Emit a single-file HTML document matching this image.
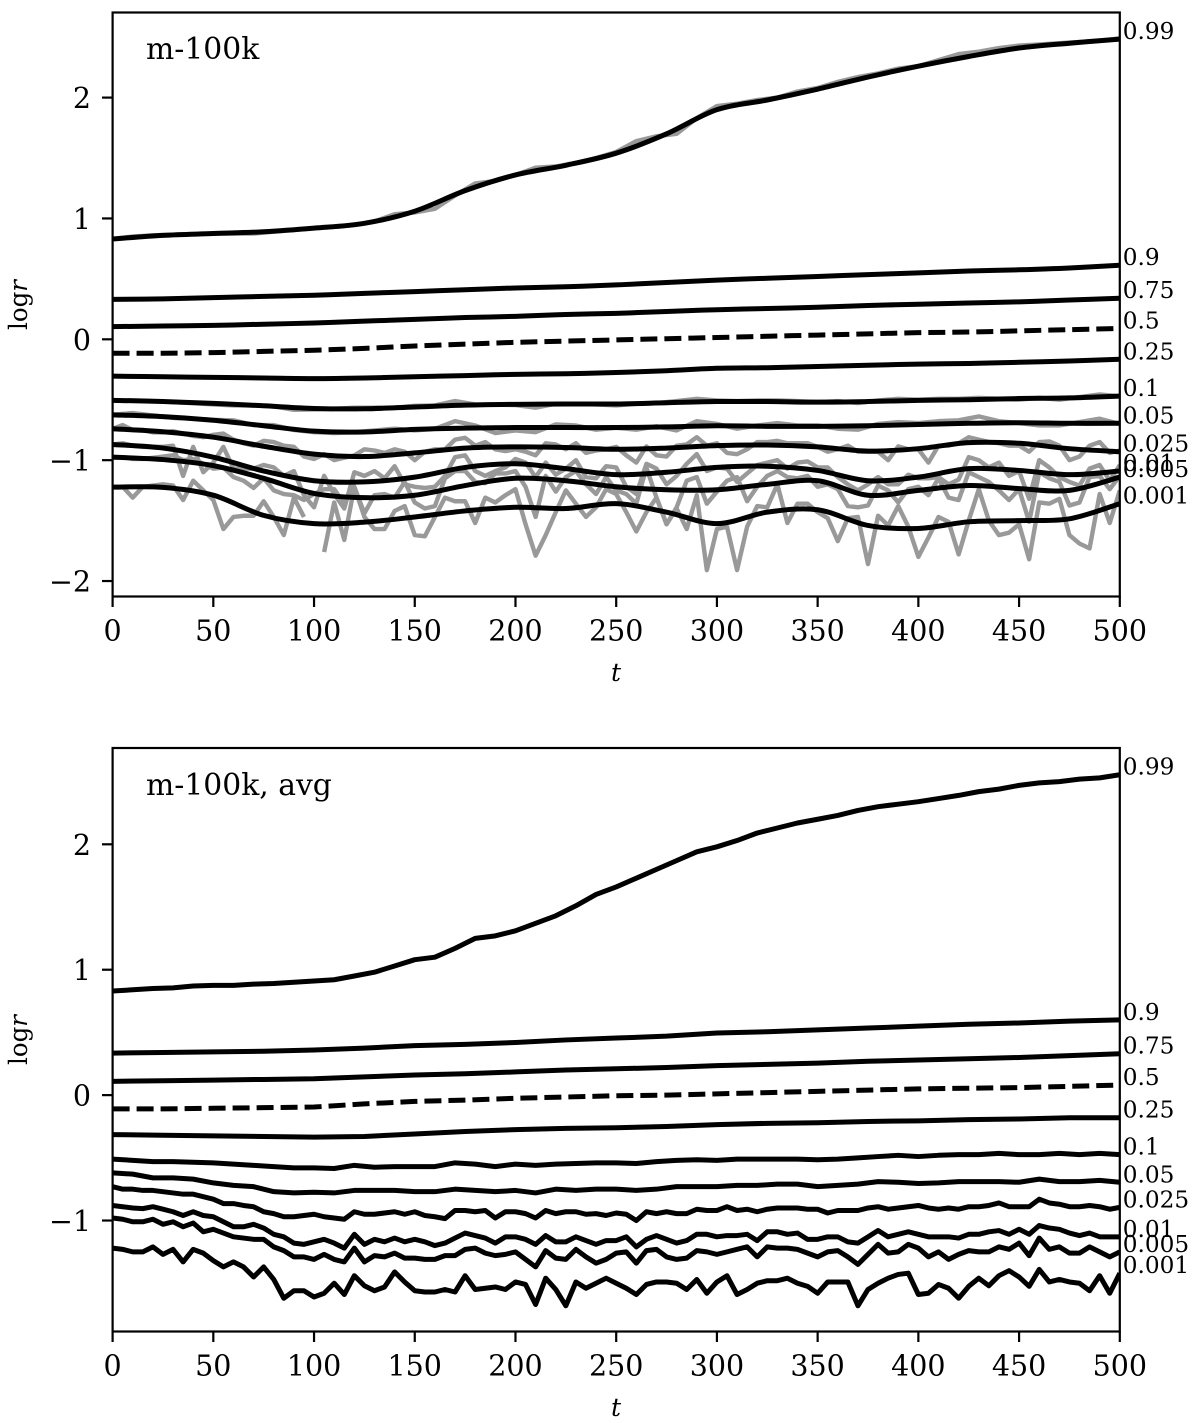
<!DOCTYPE html>
<html lang="en">
<head>
<meta charset="utf-8">
<title>m-100k log r quantile evolution</title>
<style>
html,body{margin:0;padding:0;background:#fff;}
svg{display:block;}
text{font-family:"DejaVu Serif","Liberation Serif",serif;fill:#000;}
</style>
</head>
<body>
<svg id="figure" xmlns="http://www.w3.org/2000/svg" width="1200" height="1423" viewBox="0 0 1200 1423">
  <defs>
    <clipPath id="clip-top"><rect x="112.6" y="12.5" width="1007.2" height="584"/></clipPath>
    <clipPath id="clip-bottom"><rect x="112.6" y="748" width="1007.2" height="583.5"/></clipPath>
  </defs>
  <g id="panel-top">
    <g id="top-grey" clip-path="url(#clip-top)"></g>
    <g id="top-black" clip-path="url(#clip-top)"></g>
    <rect x="112.6" y="12.5" width="1007.2" height="584" fill="none" stroke="#000" stroke-width="2.2"/>
    <g id="top-axes"></g>
    <g id="top-labels"></g>
    <text x="146" y="59" font-size="29.8">m-100k</text>
    <text x="616" y="681" font-size="25" font-style="italic" text-anchor="middle">t</text>
    <text transform="translate(27,305) rotate(-90)" font-size="25" text-anchor="middle" textLength="50" lengthAdjust="spacingAndGlyphs">log<tspan font-style="italic">r</tspan></text>
  </g>
  <g id="panel-bottom">
    <g id="bottom-black" clip-path="url(#clip-bottom)"></g>
    <rect x="112.6" y="748" width="1007.2" height="583.5" fill="none" stroke="#000" stroke-width="2.2"/>
    <g id="bottom-axes"></g>
    <g id="bottom-labels"></g>
    <text x="146" y="795" font-size="29.8">m-100k, avg</text>
    <text x="616" y="1416" font-size="25" font-style="italic" text-anchor="middle">t</text>
    <text transform="translate(27,1040) rotate(-90)" font-size="25" text-anchor="middle" textLength="50" lengthAdjust="spacingAndGlyphs">log<tspan font-style="italic">r</tspan></text>
  </g>
</svg>
<script>
const xTickValues = [0,50,100,150,200,250,300,350,400,450,500];
const yTicksTop = [-2,-1,0,1,2];
const yTicksBottom = [-1,0,1,2];
const quantileLabels = ['0.99','0.9','0.75','0.5','0.25','0.1','0.05','0.025','0.01','0.005','0.001'];

// Top panel: smoothed profiles, sampled every 25 in t
const topSmooth099 = [.83,.86,.875,.89,.92,.96,1.06,1.23,1.36,1.44,1.54,1.70,1.90,1.98,2.07,2.17,2.26,2.34,2.41,2.45,2.484];
const topSmooth090 = [.33,.335,.345,.355,.365,.38,.395,.41,.425,.435,.45,.47,.49,.505,.52,.535,.55,.565,.575,.59,.613];
const topSmooth075 = [.105,.11,.115,.125,.135,.15,.165,.18,.19,.205,.215,.23,.245,.255,.265,.28,.29,.30,.31,.325,.34];
const topSmooth050 = [-.115,-.115,-.11,-.10,-.09,-.075,-.055,-.04,-.025,-.015,-.005,.005,.015,.025,.035,.045,.055,.06,.07,.08,.09];
const topSmooth025 = [-.305,-.31,-.315,-.32,-.325,-.32,-.31,-.30,-.29,-.285,-.275,-.26,-.24,-.235,-.225,-.215,-.205,-.20,-.19,-.18,-.165];
const topSmooth010 = [-.505,-.515,-.53,-.55,-.572,-.575,-.56,-.545,-.538,-.535,-.535,-.525,-.515,-.515,-.52,-.515,-.505,-.50,-.49,-.485,-.47];
const topSmooth005 = [-.625,-.64,-.67,-.715,-.76,-.767,-.745,-.735,-.73,-.73,-.73,-.725,-.715,-.72,-.72,-.715,-.705,-.695,-.69,-.695,-.695];
const topSmooth0025 = [-.74,-.765,-.81,-.885,-.95,-.97,-.94,-.90,-.89,-.895,-.91,-.90,-.88,-.875,-.89,-.925,-.905,-.855,-.86,-.905,-.93];
const topSmooth001 = [-.87,-.90,-.975,-1.09,-1.17,-1.18,-1.14,-1.06,-1.03,-1.07,-1.12,-1.10,-1.06,-1.05,-1.085,-1.17,-1.14,-1.07,-1.085,-1.12,-1.09];
const topSmooth0005 = [-.975,-.995,-1.045,-1.15,-1.275,-1.31,-1.29,-1.21,-1.15,-1.17,-1.22,-1.245,-1.245,-1.20,-1.17,-1.29,-1.25,-1.21,-1.235,-1.25,-1.14];
const topSmooth0001 = [-1.223,-1.225,-1.29,-1.457,-1.525,-1.513,-1.47,-1.42,-1.39,-1.40,-1.36,-1.43,-1.525,-1.43,-1.41,-1.54,-1.565,-1.51,-1.50,-1.485,-1.36];

// Top panel: raw grey profiles
const topRaw099 = [.83,.85,.86,.865,.87,.875,.875,.875,.89,.905,.92,.93,.945,.975,1.035,1.05,1.08,1.19,1.29,1.31,1.36,1.42,1.43,1.46,1.50,1.55,1.64,1.68,1.70,1.83,1.93,1.95,1.98,2.0,2.05,2.08,2.13,2.17,2.20,2.24,2.26,2.31,2.36,2.38,2.41,2.43,2.44,2.45,2.46,2.47,2.49];
const topRaw010 = [-.506,-.506,-.511,-.519,-.528,-.539,-.547,-.547,-.555,-.583,-.58,-.575,-.566,-.566,-.566,-.55,-.547,-.511,-.539,-.541,-.544,-.566,-.533,-.533,-.539,-.547,-.533,-.528,-.511,-.492,-.506,-.511,-.506,-.506,-.511,-.519,-.511,-.528,-.506,-.492,-.50,-.492,-.492,-.484,-.492,-.50,-.484,-.50,-.478,-.456,-.472];
const topRaw005 = [-.624,-.61,-.63,-.65,-.657,-.666,-.67,-.71,-.71,-.75,-.768,-.776,-.768,-.754,-.74,-.754,-.74,-.677,-.713,-.776,-.754,-.768,-.704,-.713,-.748,-.732,-.748,-.72,-.754,-.677,-.70,-.74,-.713,-.693,-.713,-.713,-.74,-.748,-.70,-.685,-.693,-.677,-.67,-.638,-.677,-.693,-.713,-.713,-.685,-.657,-.70];
const topRaw0025 = [
-.74,-.71,-.75,-.75,-.77,-.77,-.76,-.78,-.80,-.81,
-.79,-.78,-.83,-.86,-.88,-.84,-.85,-.88,-.89,-.97,
-.99,-.95,-1.0,-.98,-.96,-.91,-.92,-.94,-.91,-.93,
-1.0,-.93,-.91,-.91,-.83,-.815,-.88,-.85,-.91,-.925,
-.91,-.93,-.96,-.86,-.87,-.91,-.86,-.94,-.92,-.91,
-.89,-.96,-1.02,-.886,-.96,-.97,-.88,-.87,-.81,-.88,
-.86,-.94,-.95,-.91,-.85,-.85,-.84,-.86,-.86,-.86,
-.89,-.93,-.91,-.88,-.93,-.93,-.93,-1.0,-.886,-.91,
-.91,-1.02,-.88,-.88,-.86,-.81,-.83,-.85,-.86,-.88,
-.88,-.93,-.85,-.845,-.88,-1.0,-.97,-.88,-.85,-.94,-.92];
const topRaw001 = [
-.87,-.86,-.88,-.89,-.89,-.89,-.88,-1.13,-.89,-1.10,
-1.02,-.89,-1.07,-1.07,-1.07,-1.04,-1.06,-1.13,-1.09,-1.29,
-1.39,-1.13,-1.28,-1.40,-1.10,-1.13,-1.09,-1.15,-1.05,-1.20,
-1.22,-1.23,-1.22,-1.13,-.975,-.96,-1.09,-1.13,-1.09,-1.06,
-.99,-1.02,-1.14,-1.02,-1.12,-1.07,-1.0,-1.14,-1.15,-1.05,
-1.06,-1.22,-1.28,-1.03,-1.07,-1.20,-1.13,-1.03,-.95,-1.09,
-1.06,-1.07,-1.18,-1.11,-1.04,-1.02,-1.0,-1.07,-1.02,-1.01,
-1.06,-1.06,-1.14,-1.20,-1.25,-1.20,-1.14,-1.20,-1.20,-1.12,
-1.15,-1.15,-1.14,-1.20,-1.16,-.975,-1.0,-1.06,-1.02,-1.13,
-1.09,-1.32,-1.0,-1.06,-1.14,-1.18,-1.21,-1.07,-1.04,-1.17,-1.04];
const topRaw0005 = [
-.975,-.975,-.99,-.99,-.98,-.97,-.96,-1.0,-.99,-1.03,
-1.07,-1.06,-1.14,-1.17,-1.23,-1.15,-1.25,-1.28,-1.29,-1.33,
-1.28,-1.24,-1.24,-1.36,-1.22,-1.44,-1.29,-1.28,-1.31,-1.18,
-1.35,-1.40,-1.38,-1.15,-1.09,-1.09,-1.18,-1.19,-1.11,-1.11,
-1.09,-1.22,-1.47,-1.13,-1.26,-1.14,-1.09,-1.20,-1.28,-1.14,
-1.25,-1.28,-1.36,-1.06,-1.31,-1.53,-1.39,-1.17,-1.14,-1.36,
-1.26,-1.17,-1.14,-1.34,-1.22,-1.13,-1.09,-1.14,-1.15,-1.13,
-1.22,-1.20,-1.24,-1.38,-1.39,-1.375,-1.21,-1.25,-1.35,-1.24,
-1.22,-1.29,-1.15,-1.31,-1.33,-1.10,-1.14,-1.18,-1.25,-1.33,
-1.24,-1.51,-1.10,-1.15,-1.18,-1.375,-1.35,-1.14,-1.13,-1.24,-1.13];
const topRaw0001 = [
-1.22,-1.22,-1.31,-1.22,-1.21,-1.20,-1.21,-1.33,-1.17,-1.25,
-1.33,-1.57,-1.47,-1.46,-1.46,-1.34,-1.47,-1.62,-1.31,-1.47,
null,-1.76,-1.35,-1.66,-1.22,-1.47,-1.57,-1.57,-1.42,-1.38,
-1.62,-1.63,-1.47,-1.31,-1.34,-1.34,-1.52,-1.31,-1.35,-1.29,
-1.24,-1.53,-1.79,-1.62,-1.43,-1.25,-1.36,-1.47,-1.39,-1.24,
-1.28,-1.43,-1.59,-1.43,-1.31,-1.53,-1.40,-1.57,-1.29,-1.91,
-1.57,-1.55,-1.91,-1.55,-1.38,-1.39,-1.20,-1.52,-1.36,-1.36,
-1.43,-1.48,-1.67,-1.48,-1.47,-1.86,-1.46,-1.54,-1.38,-1.55,
-1.80,-1.64,-1.47,-1.51,-1.78,-1.50,-1.24,-1.50,-1.62,-1.60,
-1.53,-1.82,-1.35,-1.36,-1.32,-1.62,-1.69,-1.73,-1.28,-1.52,-1.25];

// Bottom panel: averaged profiles
const botAvg099 = [.83,.84,.85,.855,.87,.875,.875,.885,.89,.90,.91,.92,.95,.98,1.03,1.08,1.10,1.17,1.25,1.27,1.31,1.37,1.43,1.51,1.60,1.66,1.73,1.80,1.87,1.94,1.98,2.03,2.09,2.13,2.17,2.20,2.23,2.27,2.30,2.32,2.34,2.365,2.39,2.42,2.44,2.47,2.49,2.50,2.52,2.53,2.555];
const botAvg090 = [.335,.34,.345,.35,.36,.375,.395,.405,.42,.44,.455,.47,.495,.505,.52,.535,.55,.565,.575,.59,.60];
const botAvg075 = [.11,.115,.12,.125,.13,.145,.16,.17,.185,.20,.21,.22,.235,.245,.255,.27,.28,.29,.30,.315,.33];
const botAvg050 = [-.11,-.11,-.105,-.10,-.095,-.07,-.05,-.04,-.025,-.015,-.005,.0,.01,.02,.03,.04,.05,.055,.06,.07,.08];
const botAvg025 = [-.315,-.32,-.325,-.33,-.335,-.33,-.31,-.29,-.275,-.265,-.26,-.25,-.235,-.225,-.22,-.21,-.205,-.195,-.19,-.18,-.18];
const botAvg010 = [-.51,-.52,-.53,-.53,-.535,-.54,-.55,-.56,-.57,-.58,-.58,-.585,-.56,-.575,-.57,-.57,-.57,-.54,-.55,-.57,-.55,-.56,-.55,-.545,-.54,-.54,-.545,-.53,-.52,-.515,-.52,-.51,-.51,-.51,-.51,-.515,-.51,-.50,-.49,-.48,-.49,-.48,-.475,-.475,-.465,-.475,-.475,-.465,-.475,-.465,-.475];
const botAvg005 = [-.62,-.63,-.66,-.66,-.67,-.70,-.72,-.73,-.77,-.78,-.775,-.78,-.76,-.76,-.76,-.77,-.77,-.75,-.76,-.77,-.76,-.78,-.75,-.76,-.75,-.75,-.76,-.75,-.73,-.73,-.73,-.72,-.72,-.71,-.71,-.73,-.72,-.71,-.69,-.695,-.705,-.70,-.69,-.69,-.69,-.695,-.67,-.69,-.69,-.68,-.695];
const botAvg0025 = [
-.73,-.75,-.75,-.76,-.76,-.77,-.78,-.79,-.79,-.81,
-.83,-.865,-.865,-.88,-.89,-.93,-.945,-.97,-.97,-.96,
-.95,-.97,-.98,-.99,-.93,-.95,-.95,-.94,-.93,-.95,
-.93,-.96,-.97,-.985,-.92,-.92,-.93,-.92,-.98,-.93,
-.93,-.945,-.98,-.92,-.945,-.93,-.93,-.95,-.945,-.96,
-.94,-.95,-1.0,-.93,-.945,-.93,-.945,-.945,-.91,-.92,
-.92,-.89,-.92,-.91,-.93,-.91,-.90,-.90,-.90,-.91,
-.91,-.94,-.92,-.92,-.92,-.90,-.89,-.91,-.90,-.89,
-.88,-.90,-.91,-.90,-.91,-.89,-.89,-.88,-.86,-.89,
-.89,-.89,-.83,-.86,-.87,-.89,-.89,-.88,-.89,-.91,-.895];
const botAvg001 = [
-.88,-.89,-.90,-.905,-.89,-.91,-.93,-.96,-.93,-.96,
-.97,-1.01,-1.05,-1.05,-1.03,-1.06,-1.11,-1.13,-1.18,-1.19,
-1.17,-1.15,-1.18,-1.22,-1.11,-1.19,-1.15,-1.17,-1.14,-1.17,
-1.15,-1.17,-1.20,-1.18,-1.14,-1.10,-1.12,-1.14,-1.18,-1.13,
-1.13,-1.15,-1.19,-1.12,-1.17,-1.17,-1.13,-1.16,-1.19,-1.16,
-1.16,-1.13,-1.21,-1.15,-1.12,-1.15,-1.18,-1.16,-1.11,-1.11,
-1.13,-1.12,-1.12,-1.11,-1.16,-1.09,-1.09,-1.11,-1.10,-1.15,
-1.15,-1.13,-1.13,-1.17,-1.18,-1.13,-1.08,-1.13,-1.11,-1.09,
-1.11,-1.13,-1.13,-1.13,-1.14,-1.11,-1.11,-1.09,-1.08,-1.11,
-1.07,-1.11,-1.04,-1.06,-1.07,-1.10,-1.12,-1.10,-1.13,-1.13,-1.13];
const botAvg0005 = [
-.98,-.99,-1.01,-1.01,-.99,-1.03,-1.01,-1.05,-1.02,-1.09,
-1.07,-1.10,-1.13,-1.14,-1.15,-1.15,-1.21,-1.24,-1.29,-1.29,
-1.31,-1.27,-1.31,-1.33,-1.22,-1.33,-1.28,-1.29,-1.26,-1.30,
-1.30,-1.31,-1.31,-1.28,-1.28,-1.23,-1.22,-1.26,-1.28,-1.27,
-1.25,-1.31,-1.37,-1.24,-1.30,-1.31,-1.23,-1.29,-1.34,-1.31,
-1.26,-1.25,-1.34,-1.24,-1.23,-1.29,-1.31,-1.30,-1.24,-1.25,
-1.27,-1.25,-1.23,-1.21,-1.29,-1.21,-1.22,-1.22,-1.23,-1.26,
-1.29,-1.25,-1.24,-1.29,-1.35,-1.27,-1.19,-1.26,-1.25,-1.19,
-1.22,-1.29,-1.25,-1.31,-1.27,-1.24,-1.25,-1.25,-1.21,-1.23,
-1.18,-1.28,-1.14,-1.23,-1.21,-1.26,-1.26,-1.21,-1.25,-1.29,-1.25];
const botAvg0001 = [
-1.22,-1.23,-1.25,-1.25,-1.21,-1.27,-1.23,-1.33,-1.23,-1.26,
-1.32,-1.37,-1.33,-1.37,-1.45,-1.37,-1.47,-1.62,-1.56,-1.56,
-1.61,-1.58,-1.50,-1.59,-1.44,-1.52,-1.56,-1.53,-1.41,-1.49,
-1.56,-1.57,-1.57,-1.55,-1.57,-1.44,-1.55,-1.54,-1.53,-1.55,
-1.49,-1.51,-1.67,-1.46,-1.55,-1.68,-1.49,-1.54,-1.50,-1.46,
-1.50,-1.54,-1.59,-1.51,-1.49,-1.49,-1.50,-1.55,-1.47,-1.58,
-1.49,-1.44,-1.59,-1.55,-1.50,-1.48,-1.48,-1.46,-1.50,-1.525,
-1.58,-1.49,-1.49,-1.49,-1.68,-1.55,-1.50,-1.46,-1.43,-1.42,
-1.59,-1.58,-1.51,-1.54,-1.62,-1.525,-1.46,-1.52,-1.44,-1.40,
-1.45,-1.525,-1.39,-1.49,-1.47,-1.49,-1.50,-1.56,-1.44,-1.58,-1.42];

const topSmoothSeries = [topSmooth099,topSmooth090,topSmooth075,topSmooth050,topSmooth025,topSmooth010,topSmooth005,topSmooth0025,topSmooth001,topSmooth0005,topSmooth0001];
const topRawSeries = [topRaw099,topRaw010,topRaw005,topRaw0025,topRaw001,topRaw0005,topRaw0001];
const botAvgSeries = [botAvg099,botAvg090,botAvg075,botAvg050,botAvg025,botAvg010,botAvg005,botAvg0025,botAvg001,botAvg0005,botAvg0001];

const SVG_NS = 'http://www.w3.org/2000/svg';
const tMax = 500;

function linear(d0, d1, r0, r1) {
  return function (v) { return r0 + (v - d0) * (r1 - r0) / (d1 - d0); };
}
const xScale = linear(0, tMax, 112.6, 1119.8);
const yTop = linear(-2.128, 2.704, 596.5, 12.5);
const yBottom = linear(-1.885, 2.768, 1331.5, 748);

function toPoints(values, yScale) {
  const step = tMax / (values.length - 1);
  return values.map(function (v, i) {
    return v === null ? null : [xScale(i * step), yScale(v)];
  });
}
function polylinePath(values, yScale) {
  let d = '';
  let pen = false;
  toPoints(values, yScale).forEach(function (p) {
    if (p === null) { pen = false; return; }
    d += (pen ? 'L' : 'M') + p[0].toFixed(2) + ' ' + p[1].toFixed(2);
    pen = true;
  });
  return d;
}
function smoothPath(values, yScale) {
  const p = toPoints(values, yScale);
  let d = 'M' + p[0][0].toFixed(2) + ' ' + p[0][1].toFixed(2);
  for (let i = 0; i < p.length - 1; i++) {
    const a = p[Math.max(i - 1, 0)], b = p[i], c = p[i + 1], e = p[Math.min(i + 2, p.length - 1)];
    const c1x = b[0] + (c[0] - a[0]) / 6, c1y = b[1] + (c[1] - a[1]) / 6;
    const c2x = c[0] - (e[0] - b[0]) / 6, c2y = c[1] - (e[1] - b[1]) / 6;
    d += 'C' + c1x.toFixed(2) + ' ' + c1y.toFixed(2) + ' ' + c2x.toFixed(2) + ' ' + c2y.toFixed(2) + ' ' + c[0].toFixed(2) + ' ' + c[1].toFixed(2);
  }
  return d;
}
function make(tag, parentId) {
  const el = document.createElementNS(SVG_NS, tag);
  document.getElementById(parentId).appendChild(el);
  return el;
}
function styleLine(el, color, width, dashed) {
  el.setAttribute('fill', 'none');
  el.setAttribute('stroke', color);
  el.setAttribute('stroke-width', width);
  el.setAttribute('stroke-linejoin', 'round');
  if (dashed) el.setAttribute('stroke-dasharray', '17 7');
}

topRawSeries.forEach(function (values) {
  const line = make('path', 'top-grey');
  
  
  line.setAttribute('d', polylinePath(values, yTop));
  styleLine(line, '#999999', 4.4, false);
});
topSmoothSeries.forEach(function (values, i) {
  const line = make('path', 'top-black');
  
  
  line.setAttribute('data-quantile', quantileLabels[i]);
  line.setAttribute('d', smoothPath(values, yTop));
  styleLine(line, '#000000', 5, quantileLabels[i] === '0.5');
});
botAvgSeries.forEach(function (values, i) {
  const line = make('path', 'bottom-black');
  
  
  line.setAttribute('data-quantile', quantileLabels[i]);
  line.setAttribute('d', polylinePath(values, yBottom));
  styleLine(line, '#000000', 5, quantileLabels[i] === '0.5');
});

function drawAxes(groupId, yScale, yTicks, bottom) {
  xTickValues.forEach(function (t) {
    const tick = make('line', groupId);
    
    
    tick.setAttribute('x1', xScale(t));
    tick.setAttribute('x2', xScale(t));
    tick.setAttribute('y1', bottom);
    tick.setAttribute('y2', bottom + 10.5);
    tick.setAttribute('stroke', '#000');
    tick.setAttribute('stroke-width', 2.2);
    const label = make('text', groupId);
    
    
    label.setAttribute('x', xScale(t));
    label.setAttribute('y', bottom + 44);
    label.setAttribute('font-size', 28.5);
    label.setAttribute('text-anchor', 'middle');
    label.textContent = String(t);
  });
  yTicks.forEach(function (v) {
    const tick = make('line', groupId);
    
    
    tick.setAttribute('x1', 102);
    tick.setAttribute('x2', 112.6);
    tick.setAttribute('y1', yScale(v));
    tick.setAttribute('y2', yScale(v));
    tick.setAttribute('stroke', '#000');
    tick.setAttribute('stroke-width', 2.2);
    const label = make('text', groupId);
    
    
    label.setAttribute('x', 91);
    label.setAttribute('y', yScale(v) + 10.5);
    label.setAttribute('font-size', 28.5);
    label.setAttribute('text-anchor', 'end');
    label.textContent = v < 0 ? '\u2212' + Math.abs(v) : String(v);
  });
}
drawAxes('top-axes', yTop, yTicksTop, 596.5);
drawAxes('bottom-axes', yBottom, yTicksBottom, 1331.5);

function drawQuantileLabels(groupId, seriesList, yScale) {
  seriesList.forEach(function (values, i) {
    const label = make('text', groupId);
    
    
    label.setAttribute('x', xScale(tMax) + 3);
    label.setAttribute('y', yScale(values[values.length - 1]));
    label.setAttribute('font-size', 23.2);
    label.textContent = quantileLabels[i];
  });
}
drawQuantileLabels('top-labels', topSmoothSeries, yTop);
drawQuantileLabels('bottom-labels', botAvgSeries, yBottom);
</script>
</body>
</html>
